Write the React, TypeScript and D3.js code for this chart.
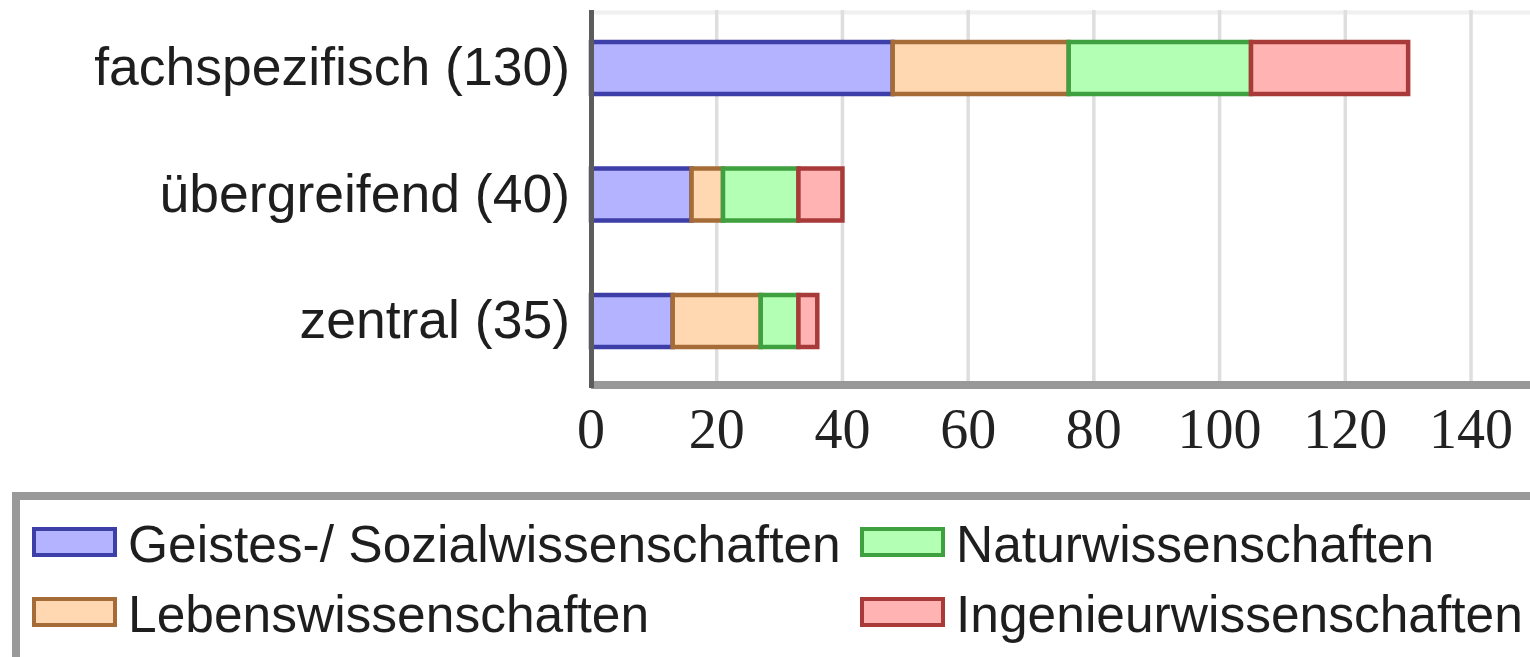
import React from "react";
import * as d3 from "d3";

const categories = ["fachspezifisch (130)", "übergreifend (40)", "zentral (35)"];
const seriesNames = [
  "Geistes-/ Sozialwissenschaften",
  "Lebenswissenschaften",
  "Naturwissenschaften",
  "Ingenieurwissenschaften",
];
const geistes = [48, 16, 13];
const leben = [28, 5, 14];
const natur = [29, 12, 6];
const ingenieur = [25, 7, 3];
const xTicks = [0, 20, 40, 60, 80, 100, 120, 140];

const fills = ["#b3b3ff", "#ffd8b1", "#b3ffb3", "#ffb3b3"];
const strokes = ["#3e3ea8", "#a66c38", "#3ea03e", "#a83a3a"];

const W = 1530;
const H = 657;

export default function App() {
  const x = d3.scaleLinear().domain([0, 140]).range([591, 1471]);
  const y = d3.scalePoint<string>().domain(categories).range([68, 321]);
  const barH = 52;

  const rows = categories.map((c, i) => ({
    cat: c,
    g: geistes[i],
    l: leben[i],
    n: natur[i],
    e: ingenieur[i],
  }));
  const keys = ["g", "l", "n", "e"];
  const stacked = d3.stack<any>().keys(keys)(rows);

  const sans = "'Liberation Sans', Arial, sans-serif";
  const serif = "'Liberation Serif', 'Times New Roman', serif";

  const legendItems = [
    { i: 0, x: 32, y: 527 },
    { i: 2, x: 860, y: 527 },
    { i: 1, x: 32, y: 597 },
    { i: 3, x: 860, y: 597 },
  ];

  return (
    <svg
      width={W}
      height={H}
      style={{ position: "absolute", left: 0, top: 0, display: "block", background: "#fff" }}
    >
      {/* top frame line */}
      <line x1={591} x2={W} y1={12.5} y2={12.5} stroke="#f0f0f0" strokeWidth={4} />
      {/* grid */}
      {xTicks.filter((t) => t > 0).map((t) => (
        <line key={t} x1={x(t)} x2={x(t)} y1={10} y2={384} stroke="#dedede" strokeWidth={3.5} />
      ))}
      {/* bars */}
      {stacked.map((s, si) =>
        s.map((d: any, i: number) => (
          <rect
            key={si + "-" + i}
            x={x(d[0])}
            y={(y(categories[i]) as number) - barH / 2}
            width={x(d[1]) - x(d[0])}
            height={barH}
            fill={fills[si]}
            stroke={strokes[si]}
            strokeWidth={4.5}
          />
        ))
      )}
      {/* axes */}
      <line x1={591} x2={W} y1={385} y2={385} stroke="#999" strokeWidth={8} />
      <line x1={591.5} x2={591.5} y1={10} y2={388} stroke="#5c5c5c" strokeWidth={5} />
      {/* x tick labels */}
      {xTicks.map((t) => (
        <text
          key={t}
          x={x(t)}
          y={448}
          textAnchor="middle"
          fontFamily={serif}
          fontSize={56}
          fill="#222"
        >
          {t}
        </text>
      ))}
      {/* category labels */}
      {categories.map((c) => (
        <text
          key={c}
          x={570}
          y={(y(c) as number) + 17}
          textAnchor="end"
          fontFamily={sans}
          fontSize={53.5}
          fill="#1e1e1e"
        >
          {c}
        </text>
      ))}
      {/* legend */}
      <rect x={16} y={496} width={1540} height={170} fill="#fff" stroke="#999" strokeWidth={8} />
      {legendItems.map((it) => (
        <g key={it.i}>
          <rect
            x={it.x + 2}
            y={it.y + 2}
            width={81}
            height={26}
            fill={fills[it.i]}
            stroke={strokes[it.i]}
            strokeWidth={4}
          />
          <text x={it.x + 96} y={it.y + 35} fontFamily={sans} fontSize={51.5} fill="#1e1e1e">
            {seriesNames[it.i]}
          </text>
        </g>
      ))}
    </svg>
  );
}
